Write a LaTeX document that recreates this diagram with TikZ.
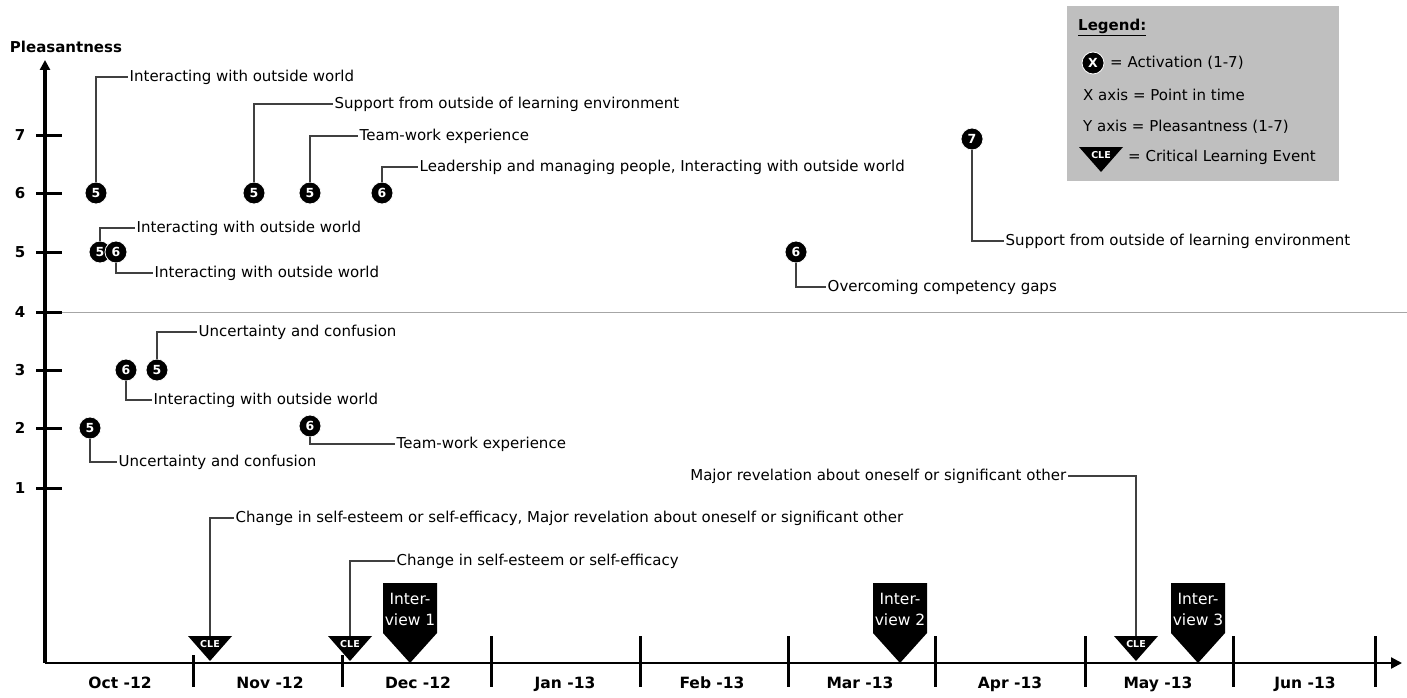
\documentclass[tikz,border=0pt]{standalone}
\usepackage{fontspec}
\setmainfont{DejaVu Sans}
\usetikzlibrary{arrows.meta}
\begin{document}
\begin{tikzpicture}[x=1pt,y=-1pt,
  every node/.style={inner sep=0pt},
  pt/.style={circle, fill=black, draw=white, line width=0.8pt, minimum size=22pt, text=white, font=\bfseries\fontsize{12.5}{12.5}\selectfont},
  lbl/.style={anchor=west, font=\fontsize{15}{17}\selectfont, inner sep=1.5pt},
  lblr/.style={anchor=east, font=\fontsize{15}{17}\selectfont, inner sep=1.5pt},
  lead/.style={draw=black!75, line width=1.4pt},
  mon/.style={font=\bfseries\fontsize{15.5}{17}\selectfont, text height=11pt, text depth=2pt},
  ylab/.style={font=\bfseries\fontsize{15}{17}\selectfont},
  axtick/.style={line width=3pt},
  leg/.style={anchor=west, font=\fontsize{15}{17}\selectfont},
  pics/cle/.style={code={
    \fill (-22,0) -- (22,0) -- (0,25) -- cycle;
    \node[text=white, font=\bfseries\fontsize{9.5}{9.5}\selectfont] (-t) at (0,8) {CLE};}},
  pics/iv/.style={code={
    \fill (-27,0) -- (27,0) -- (27,50) -- (0,80) -- (-27,50) -- cycle;
    \node[text=white, align=center, font=\fontsize{15.5}{21}\selectfont] (-t) at (0,26) {Inter-\\view #1};}}
]
\useasboundingbox (0,0) rectangle (1407,698);

% reference line at 4
\coordinate (h0) at (45,312);
\coordinate (h1) at (1407,312);
\draw[gray!70, line width=1pt] (h0) -- (h1);

% axes
\coordinate (o) at (45,663);
\coordinate (ytop) at (45,60);
\coordinate (xend) at (1402,663);
\draw[line width=3.2pt, -{Triangle[length=10pt,width=10pt]}] (o) -- (ytop);
\draw[line width=2.2pt, -{Triangle[length=11pt,width=11pt]}] (o) -- (xend);
\node[ylab] (ptitle) at (66,47) {Pleasantness};

% y ticks
\foreach \v/\yy in {7/135,6/193,5/252,4/312,3/370,2/428,1/488}{
  \draw[axtick] (36,\yy) -- (62,\yy);
  \node[ylab] (yl\v) at (20,\yy) {\v};
}

% month ticks
\foreach \xx in {491,640,788,935,1085,1233,1375}{
  \draw[axtick] (\xx,636) -- (\xx,687);
}
\foreach \xx in {193,342}{
  \draw[axtick] (\xx,655) -- (\xx,687);
}
\foreach \lab/\xx [count=\i] in {Oct -12/120,Nov -12/270,Dec -12/418,Jan -13/565,Feb -13/712,Mar -13/860,Apr -13/1010,May -13/1158,Jun -13/1305}{
  \node[mon] (m\i) at (\xx,684) {\lab};
}

% data points
\node[pt] (p1) at (96,193) {5};
\node[pt] (p2) at (254,193) {5};
\node[pt] (p3) at (310,193) {5};
\node[pt] (p4) at (382,193) {6};
\node[pt] (p5) at (100,252) {5};
\node[pt] (p6) at (116,252) {6};
\node[pt] (p7) at (796,252) {6};
\node[pt] (p8) at (972,139) {7};
\node[pt] (p9) at (157,370) {5};
\node[pt] (p10) at (126,370) {6};
\node[pt] (p11) at (90,428) {5};
\node[pt] (p12) at (310,426) {6};

\node[lbl] (t1) at (128,77) {Interacting with outside world};
\node[lbl] (t2) at (333,104) {Support from outside of learning environment};
\node[lbl] (t3) at (358,136) {Team-work experience};
\node[lbl] (t4) at (418,167) {Leadership and managing people, Interacting with outside world};
\node[lbl] (t5) at (135,228) {Interacting with outside world};
\node[lbl] (t6) at (153,273) {Interacting with outside world};
\node[lbl] (t7) at (826,287) {Overcoming competency gaps};
\node[lbl] (t8) at (1004,241) {Support from outside of learning environment};
\node[lbl] (t9) at (197,332) {Uncertainty and confusion};
\node[lbl] (t10) at (152,400) {Interacting with outside world};
\node[lbl] (t11) at (117,462) {Uncertainty and confusion};
\node[lbl] (t12) at (395,444) {Team-work experience};

\draw[lead] (p1.north) |- (t1.west);
\draw[lead] (p2.north) |- (t2.west);
\draw[lead] (p3.north) |- (t3.west);
\draw[lead] (p4.north) |- (t4.west);
\draw[lead] (p5.north) |- (t5.west);
\draw[lead] (p6.south) |- (t6.west);
\draw[lead] (p7.south) |- (t7.west);
\draw[lead] (p8.south) |- (t8.west);
\draw[lead] (p9.north) |- (t9.west);
\draw[lead] (p10.south) |- (t10.west);
\draw[lead] (p11.south) |- (t11.west);
\draw[lead] (p12.south) |- (t12.west);

% critical learning events
\pic (c1) at (210,636) {cle};
\pic (c2) at (350,636) {cle};
\pic (c3) at (1136,636) {cle};
\coordinate (c1top) at (210,636);
\coordinate (c2top) at (350,636);
\coordinate (c3top) at (1136,636);
\node[lbl] (t13) at (234,518) {Change in self-esteem or self-efficacy, Major revelation about oneself or significant other};
\node[lbl] (t14) at (395,561) {Change in self-esteem or self-efficacy};
\node[lblr] (t15) at (1068,476) {Major revelation about oneself or significant other};
\draw[lead] (c1top) |- (t13.west);
\draw[lead] (c2top) |- (t14.west);
\draw[lead] (c3top) |- (t15.east);

% interviews
\pic (i1) at (410,583) {iv=1};
\pic (i2) at (900,583) {iv=2};
\pic (i3) at (1198,583) {iv=3};

% legend
\node[fill=gray!50, minimum width=272pt, minimum height=175pt, anchor=north west] (legbox) at (1067,6) {};
\node[leg] (lg0) at (1078,27) {\underline{\textbf{Legend:}}};
\node[pt] (lgx) at (1093,63) {X};
\node[leg] (lg1) at (1110,63) {= Activation (1-7)};
\node[leg] (lg2) at (1083,95) {X axis = Point in time};
\node[leg] (lg3) at (1083,127) {Y axis = Pleasantness (1-7)};
\pic (lgc) at (1101,147) {cle};
\node[leg] (lg4) at (1128,157) {= Critical Learning Event};
\end{tikzpicture}
\end{document}
